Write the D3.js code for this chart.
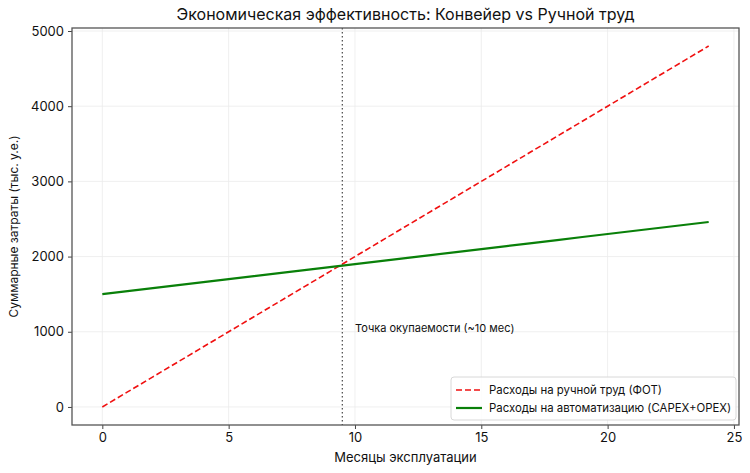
<!DOCTYPE html>
<html>
<head>
<meta charset="utf-8">
<script src="https://cdn.jsdelivr.net/npm/d3@7"></script>
<style>
	body{margin:0;background:#fff;}
	svg text{font-family:"Inter","Lato","DejaVu Sans",sans-serif;fill:#111;}
</style>
</head>
<body>
<div id="chart"></div>
<script>
(function(){

	// data
	var months = [0,1,2,3,4,5,6,7,8,9,10,11,12,13,14,15,16,17,18,19,20,21,22,23,24];
	var manualCost = [0,200,400,600,800,1000,1200,1400,1600,1800,2000,2200,2400,2600,2800,3000,3200,3400,3600,3800,4000,4200,4400,4600,4800];
	var autoCost = [1500,1540,1580,1620,1660,1700,1740,1780,1820,1860,1900,1940,1980,2020,2060,2100,2140,2180,2220,2260,2300,2340,2380,2420,2460];
	var xTicks = [0,5,10,15,20,25];
	var yTicks = [0,1000,2000,3000,4000,5000];
	var breakEven = 9.5;
	var seriesNames = ["Расходы на ручной труд (ФОТ)", "Расходы на автоматизацию (CAPEX+OPEX)"];

	var W = 750, H = 473;
	var M = {top:28, right:11, bottom:48, left:72};
	var w = W - M.left - M.right, h = H - M.top - M.bottom;

	var svg = d3.select("#chart").append("svg").attr("width",W).attr("height",H);
	var g = svg.append("g").attr("transform","translate("+M.left+","+M.top+")");

	var x = d3.scaleLinear().domain([-1.2, 25.2]).range([0, w]);
	var y = d3.scaleLinear().domain([-240, 5040]).range([h, 0]);

	// grid
	g.append("g").selectAll("line").data(xTicks).enter().append("line")
		.attr("x1",function(d){return x(d)}).attr("x2",function(d){return x(d)})
		.attr("y1",0).attr("y2",h)
		.attr("stroke","#ebebeb").attr("stroke-width",0.8);
	g.append("g").selectAll("line").data(yTicks).enter().append("line")
		.attr("y1",function(d){return y(d)}).attr("y2",function(d){return y(d)})
		.attr("x1",0).attr("x2",w)
		.attr("stroke","#ebebeb").attr("stroke-width",0.8);

	// break-even line
	g.append("line")
		.attr("x1",x(breakEven)).attr("x2",x(breakEven))
		.attr("y1",0).attr("y2",h)
		.attr("stroke","#555").attr("stroke-width",1.3)
		.attr("stroke-dasharray","1.5,2.5");

	var line = d3.line().x(function(d){return x(d[0])}).y(function(d){return y(d[1])});

	g.append("path").datum(months.map(function(m,i){return [m, manualCost[i]]}))
		.attr("d",line).attr("fill","none")
		.attr("stroke","#f01010").attr("stroke-width",1.6)
		.attr("stroke-dasharray","6,3");

	g.append("path").datum(months.map(function(m,i){return [m, autoCost[i]]}))
		.attr("d",line).attr("fill","none")
		.attr("stroke","#098009").attr("stroke-width",2.2);

	// annotation
	g.append("text").attr("x",x(10)).attr("y",y(1000))
		.style("font-size","11px").text("Точка окупаемости (~10 мес)");

	// axes
	var xAxis = g.append("g").attr("transform","translate(0,"+h+")")
		.call(d3.axisBottom(x).tickValues(xTicks).tickFormat(d3.format("d")).tickSize(4).tickPadding(4));
	var yAxis = g.append("g")
		.call(d3.axisLeft(y).tickValues(yTicks).tickFormat(d3.format("d")).tickSize(4).tickPadding(4));
	[xAxis, yAxis].forEach(function(a){
		a.select(".domain").remove();
		a.selectAll("line").attr("stroke","#444");
		a.selectAll("text").style("font-size","13px").style("font-family",null).attr("fill","#111");
	});

	// frame
	g.append("rect").attr("x",0).attr("y",0).attr("width",w).attr("height",h)
		.attr("fill","none").attr("stroke","#555").attr("stroke-width",1.3);

	// labels
	svg.append("text").attr("x",M.left+w/2).attr("y",20).attr("text-anchor","middle")
		.style("font-size","16px").text("Экономическая эффективность: Конвейер vs Ручной труд");
	svg.append("text").attr("x",M.left+w/2).attr("y",462).attr("text-anchor","middle")
		.style("font-size","13px").text("Месяцы эксплуатации");
	svg.append("text").attr("transform","translate(18,"+(M.top+h/2)+") rotate(-90)")
		.attr("text-anchor","middle").style("font-size","12px")
		.text("Суммарные затраты (тыс. у.е.)");

	// legend
	var lg = g.append("g").attr("transform","translate("+(w-288)+","+(h-48)+")");
	lg.append("rect").attr("width",285).attr("height",43).attr("rx",3)
		.attr("fill","#fff").attr("fill-opacity",0.85)
		.attr("stroke","#d8d8d8").attr("stroke-width",1);
	var items = lg.selectAll("g.item").data(seriesNames).enter().append("g")
		.attr("transform",function(d,i){return "translate(5,"+(13+i*18)+")"});
	items.append("line").attr("x1",0).attr("x2",26).attr("y1",0).attr("y2",0)
		.attr("stroke",function(d,i){return i===0 ? "#f01010" : "#098009"})
		.attr("stroke-width",function(d,i){return i===0 ? 1.6 : 2.2})
		.attr("stroke-dasharray",function(d,i){return i===0 ? "6,3" : null});
	items.append("text").attr("x",33).attr("y",4).style("font-size","11.4px").text(function(d){return d});

})();
</script>
</body>
</html>
